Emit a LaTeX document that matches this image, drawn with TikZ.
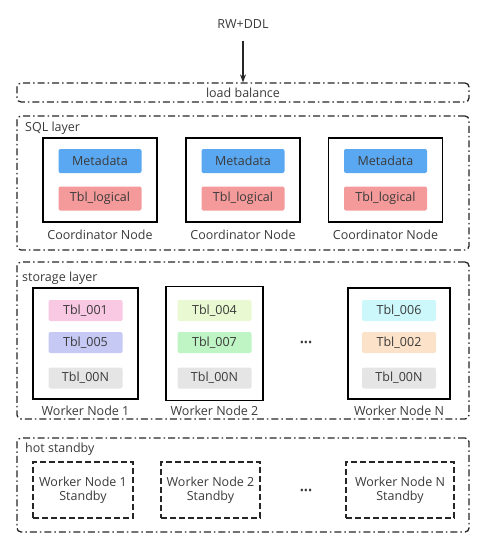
\documentclass[tikz,border=0pt]{standalone}
\usepackage{fontspec}
\setmainfont{Open Sans}
\usepackage{tikz}
\usetikzlibrary{arrows.meta}
\definecolor{ink}{HTML}{3A3A3A}
\definecolor{meta}{HTML}{5AA8F2}
\definecolor{logic}{HTML}{F59A9A}
\definecolor{tpink}{HTML}{F9C8E2}
\definecolor{tviolet}{HTML}{C6C9F4}
\definecolor{tgrey}{HTML}{E5E5E5}
\definecolor{tlime}{HTML}{E9FAD3}
\definecolor{tgreen}{HTML}{BFF4C4}
\definecolor{tcyan}{HTML}{CDF8FB}
\definecolor{tpeach}{HTML}{FCE2C9}
\tikzset{
  layer/.style={draw=black!85, line width=1.3pt, rounded corners=4pt,
    dash pattern=on 7pt off 3pt on 1.5pt off 3pt, inner sep=0pt},
  host/.style={draw=black, line width=1.4pt, inner sep=0pt},
  spare/.style={draw=black!85, line width=1.3pt, dash pattern=on 6pt off 3pt,
    inner sep=0pt, align=center, text=ink, font=\fontsize{12.5}{14.5}\selectfont},
  tbl/.style={rounded corners=2pt, minimum width=74, minimum height=21,
    inner sep=0pt, text=ink, font=\fontsize{12.5}{14}\selectfont},
  cbox/.style={rounded corners=2pt, minimum width=83, minimum height=24,
    inner sep=0pt, text=ink, font=\fontsize{12.5}{14}\selectfont},
  lab/.style={text=ink, font=\fontsize{12.5}{14}\selectfont, inner sep=0pt},
  more/.style={text=ink, font=\fontsize{11}{12}\selectfont, inner sep=0pt},
  arr/.style={draw=black!85, line width=1.3pt, -{Stealth[length=8pt,width=6pt]}},
}
\begin{document}
\begin{tikzpicture}[x=1pt,y=-1pt]
  \useasboundingbox (0,0) rectangle (500,543);

  \node[lab] (rw) at (243,24) {RW+DDL};
  \node[layer, minimum width=452, minimum height=19] (lb) at (243,92.5) {};
  \node[lab] at (lb.center) {load balance};
  \draw[arr, shorten <=12pt] (rw.south) -- (lb.north);

  % SQL layer
  \node[layer, minimum width=452, minimum height=134] (sql) at (243,183) {};
  \node[lab, anchor=west] at (25,128) {SQL layer};
  \foreach \i/\x in {1/100,2/243,3/385.5}{
    \node[host, minimum width=114, minimum height=84] (co\i) at (\x,180) {};
    \node[cbox, fill=meta] (meta\i) at ([yshift=19]co\i.center) {Metadata};
    \node[cbox, fill=logic] (log\i) at ([yshift=-18.5]co\i.center) {Tbl\_logical};
    \node[lab] (cl\i) at (\x,235) {Coordinator Node};
  }

  % storage layer
  \node[layer, minimum width=452, minimum height=157] (st) at (243,340.5) {};
  \node[lab, anchor=west] at (22,278) {storage layer};
  \foreach \i/\x/\w/\h/\n/\ca/\cb/\ta/\tb in {
    1/85.5/105/111/1/tpink/tviolet/001/005,
    2/214.5/97/114/2/tlime/tgreen/004/007,
    3/399/102/111/N/tcyan/tpeach/006/002}{
    \node[host, minimum width=\w, minimum height=\h] (wk\i) at (\x,343.5) {};
    \node[tbl, fill=\ca] (ta\i) at (\x,310.5) {Tbl\_\ta};
    \node[tbl, fill=\cb] (tb\i) at (\x,342.5) {Tbl\_\tb};
    \node[tbl, fill=tgrey] (tn\i) at (\x,378) {Tbl\_00N};
    \node[lab] (wl\i) at (\x,411) {Worker Node \n};
  }
  \node[more] (dots1) at (306,344) {•••};

  % hot standby
  \node[layer, minimum width=452, minimum height=94] (hs) at (243,485) {};
  \node[lab, anchor=west] at (25,449) {hot standby};
  \foreach \i/\x/\w/\n in {1/83/100/1,2/210.5/99/2,3/400/108/N}{
    \node[spare, minimum width=\w, minimum height=56] (sb\i) at (\x,490)
      {Worker Node \n\\Standby};
  }
  \node[more] (dots2) at (306,492) {•••};
\end{tikzpicture}
\end{document}
